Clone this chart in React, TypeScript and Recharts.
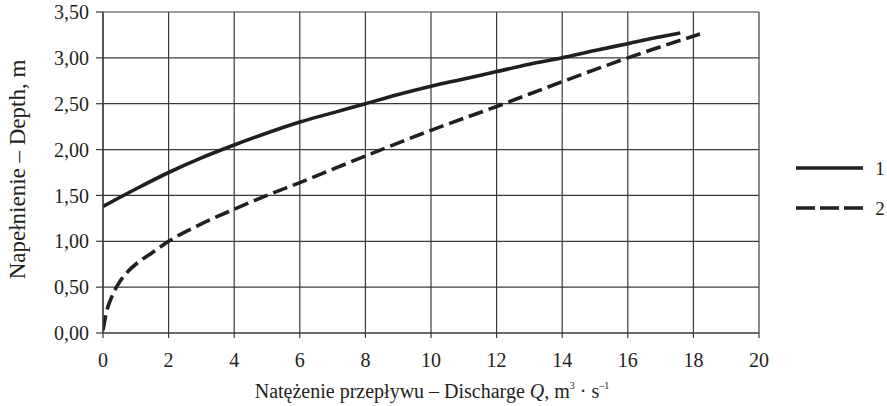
import { LineChart, Line, XAxis, YAxis, CartesianGrid, Label } from "recharts";

// curve 1 – solid
const q1 = [0, 1, 2, 3, 4, 5, 6, 7, 8, 9, 10, 11, 12, 13, 14, 15, 16, 17, 17.6];
const depth1 = [1.38, 1.57, 1.75, 1.91, 2.05, 2.18, 2.3, 2.4, 2.5, 2.6, 2.69, 2.77, 2.85, 2.93, 3.0, 3.08, 3.155, 3.23, 3.27];

// curve 2 – dashed
const q2 = [0, 0.1, 0.25, 0.46, 0.76, 1.07, 1.52, 2, 3, 4, 5, 6, 8, 10, 12, 14, 16, 18.2];
const depth2 = [0.03, 0.22, 0.38, 0.53, 0.67, 0.77, 0.88, 1.0, 1.19, 1.35, 1.5, 1.64, 1.93, 2.21, 2.47, 2.74, 3.0, 3.26];

const xTicks = [0, 2, 4, 6, 8, 10, 12, 14, 16, 18, 20];
const yTicks = [0, 0.5, 1, 1.5, 2, 2.5, 3, 3.5];

const seriesNames = ["1", "2"];

const INK = "#231f20";
const GRID = "#3a3a3a";
const FONT = "'Liberation Serif', 'Times New Roman', serif";

const data1 = q1.map((q, i) => ({ q, d: depth1[i] }));
const data2 = q2.map((q, i) => ({ q, d: depth2[i] }));

const fmtY = (v: number) => v.toFixed(2).replace(".", ",");

function XTitle(props: any) {
  const vb = props.viewBox;
  const cx = vb.x + vb.width / 2 + 1;
  return (
    <text x={cx} y={398} textAnchor="middle" fontSize={20} fill={INK} fontFamily={FONT}>
      Natężenie przepływu – Discharge <tspan fontStyle="italic">Q</tspan>, m
      <tspan fontSize={10} dy={-9}>3</tspan>
      <tspan dy={9}> · s</tspan>
      <tspan fontSize={10} dy={-9}>–1</tspan>
    </text>
  );
}

function YTitle(props: any) {
  const vb = props.viewBox;
  const cy = vb.y + vb.height / 2 - 3;
  return (
    <text x={25} y={cy} transform={`rotate(-90, 25, ${cy})`} textAnchor="middle" fontSize={23} fill={INK} fontFamily={FONT}>
      Napełnienie – Depth, m
    </text>
  );
}

function LegendBox() {
  return (
    <svg width={97} height={66} style={{ position: "absolute", left: 790, top: 155 }}>
      <line x1={6} y1={13} x2={73} y2={13} stroke={INK} strokeWidth={3.5} />
      <text x={90} y={20} textAnchor="middle" fontSize={19} fill={INK} fontFamily={FONT}>{seriesNames[0]}</text>
      <line x1={6} y1={53} x2={73} y2={53} stroke={INK} strokeWidth={3.5} strokeDasharray="19 5" />
      <text x={90} y={60} textAnchor="middle" fontSize={19} fill={INK} fontFamily={FONT}>{seriesNames[1]}</text>
    </svg>
  );
}

export default function App() {
  return (
    <div style={{ position: "absolute", left: 0, top: 0, width: 887, height: 406, background: "#fff" }}>
      <LineChart width={887} height={406} margin={{ top: 12, right: 128, bottom: 0, left: 0 }} style={{ fontFamily: FONT }}>
        <CartesianGrid stroke={GRID} strokeWidth={1.2} />
        <XAxis
          type="number"
          dataKey="q"
          domain={[0, 20]}
          ticks={xTicks}
          allowDataOverflow
          height={73}
          tickSize={5}
          tickMargin={15}
          axisLine={{ stroke: GRID, strokeWidth: 1.2 }}
          tickLine={{ stroke: GRID, strokeWidth: 1.2 }}
          tick={{ fontSize: 20, fill: INK, fontFamily: FONT }}
        >
          <Label content={<XTitle />} />
        </XAxis>
        <YAxis
          type="number"
          domain={[0, 3.5]}
          ticks={yTicks}
          width={103}
          tickSize={7}
          tickMargin={7}
          tickFormatter={fmtY}
          axisLine={{ stroke: GRID, strokeWidth: 1.2 }}
          tickLine={{ stroke: GRID, strokeWidth: 1.2 }}
          tick={{ fontSize: 20, fill: INK, fontFamily: FONT }}
        >
          <Label content={<YTitle />} />
        </YAxis>
        <Line data={data1} dataKey="d" name={seriesNames[0]} type="monotone" stroke={INK} strokeWidth={3.6} dot={false} isAnimationActive={false} />
        <Line data={data2} dataKey="d" name={seriesNames[1]} type="monotone" stroke={INK} strokeWidth={3.6} strokeDasharray="15 6" dot={false} isAnimationActive={false} />
      </LineChart>
      <LegendBox />
    </div>
  );
}
